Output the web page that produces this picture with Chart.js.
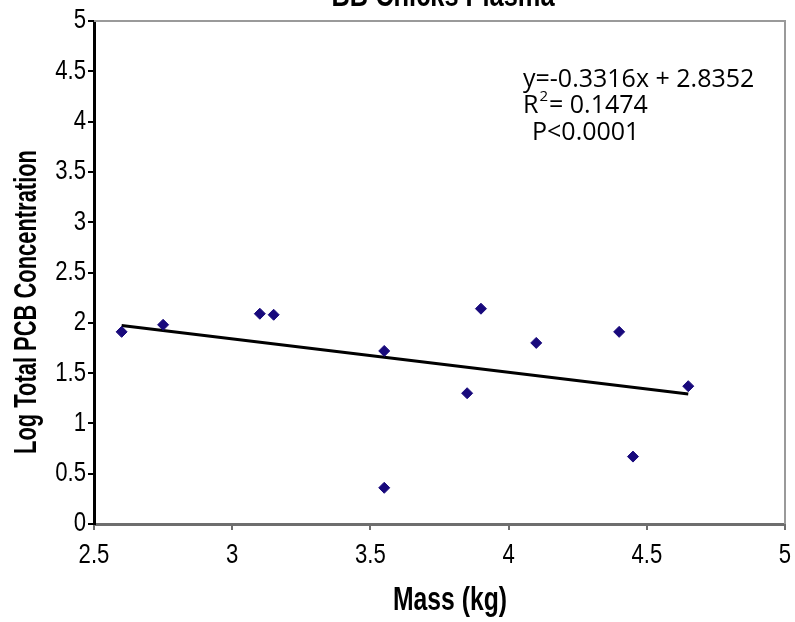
<!DOCTYPE html>
<html><head><meta charset="utf-8">
<script src="https://cdn.jsdelivr.net/npm/chart.js@4/dist/chart.umd.min.js"></script>
<style>html,body{margin:0;padding:0;background:#fff}#wrap{width:795px;height:622px}</style>
</head><body><div id="wrap"><canvas id="c" width="795" height="622"></canvas></div>
<script>
const massKg = [2.6, 2.75, 3.1, 3.15, 3.55, 3.55, 3.85, 3.9, 4.1, 4.4, 4.45, 4.65];
const logPCB = [1.91, 1.98, 2.09, 2.08, 0.36, 1.72, 1.30, 2.14, 1.80, 1.91, 0.67, 1.37];
const slope = -0.3316;
const intercept = 2.8352;
const fitRange = [2.6, 4.65];
const xTicks = [2.5, 3, 3.5, 4, 4.5, 5];
const xTickLabels = ['2.5', '3', '3.5', '4', '4.5', '5'];
const yTicks = [0, 0.5, 1, 1.5, 2, 2.5, 3, 3.5, 4, 4.5, 5];
const yTickLabels = ['0', '0.5', '1', '1.5', '2', '2.5', '3', '3.5', '4', '4.5', '5'];
const titleText = 'BB Chicks Plasma';
const xTitle = 'Mass (kg)';
const yTitle = 'Log Total PCB Concentration';
const eqText = 'y=-0.3316x + 2.8352';
const r2Text = '= 0.1474';
const pText = 'P<0.0001';

const sans = '"Liberation Sans", Arial, sans-serif';
const eqFont = '"Open Sans", "Noto Sans", sans-serif';

const points = massKg.map((x, i) => ({x: x, y: logPCB[i]}));
const fitLine = fitRange.map(x => ({x: x, y: slope * x + intercept}));

// condense axis tick text (the reference uses a narrow face)
const condense = {
  id: 'condense',
  beforeDraw(chart) {
    const ctx = chart.ctx;
    if (!ctx._nativeFill) ctx._nativeFill = ctx.fillText;
    const nat = ctx._nativeFill;
    ctx.fillText = function(t, x, y, mw) {
      const w = this.measureText(t).width * 0.82;
      return nat.call(this, t, x, y, (mw !== undefined && mw < w) ? mw : w);
    };
  },
  beforeDatasetsDraw(chart) {
    const ctx = chart.ctx;
    if (ctx._nativeFill) ctx.fillText = ctx._nativeFill;
  }
};

const extras = {
  id: 'extras',
  afterDraw(chart) {
    const ctx = chart.ctx, a = chart.chartArea;
    ctx.save();
    // top and right frame
    ctx.strokeStyle = '#9a9a9a';
    ctx.lineWidth = 2;
    ctx.beginPath();
    ctx.moveTo(a.left, a.top); ctx.lineTo(a.right, a.top); ctx.lineTo(a.right, a.bottom);
    ctx.stroke();
    ctx.fillStyle = '#000';
    // chart title, clipped at the top edge
    ctx.font = 'bold 33px ' + sans;
    ctx.textAlign = 'center';
    ctx.textBaseline = 'alphabetic';
    ctx.fillText(titleText, 443, 6, 223);
    // x axis title
    ctx.fillText(xTitle, 450, 610, 114);
    // y axis title
    ctx.save();
    ctx.translate(36, 302);
    ctx.rotate(-Math.PI / 2);
    ctx.font = 'bold 32px ' + sans;
    ctx.fillText(yTitle, 0, 0, 304);
    ctx.restore();
    // equation block
    ctx.textAlign = 'left';
    ctx.font = '25px ' + eqFont;
    ctx.fillText(eqText, 523, 87, 240);
    ctx.fillText('R', 523, 113);
    const rw = ctx.measureText('R').width;
    ctx.font = '15px ' + eqFont;
    ctx.fillText('2', 523 + rw + 1, 101);
    ctx.font = '25px ' + eqFont;
    ctx.fillText(r2Text, 549, 113);
    ctx.fillText(pText, 532, 140);
    ctx.restore();
  }
};

new Chart(document.getElementById('c'), {
  type: 'scatter',
  data: {
    datasets: [
      {
        type: 'line',
        data: fitLine,
        borderColor: '#000',
        borderWidth: 3,
        pointRadius: 0,
        fill: false,
        order: 2
      },
      {
        data: points,
        pointStyle: 'rectRot',
        pointRadius: 5.5,
        backgroundColor: '#18097c',
        borderColor: '#18097c',
        borderWidth: 1,
        order: 1
      }
    ]
  },
  options: {
    responsive: false,
    animation: false,
    events: [],
    layout: {padding: {top: 21, right: 10, left: 0, bottom: 0}},
    plugins: {legend: {display: false}, tooltip: {enabled: false}, title: {display: false}},
    scales: {
      x: {
        type: 'linear', min: 2.5, max: 5,
        afterBuildTicks: s => { s.ticks = xTicks.map(v => ({value: v})); },
        afterFit: s => { s.height = 98; s.paddingLeft = 0; s.paddingRight = 0; },
        grid: {drawOnChartArea: false, drawTicks: true, tickLength: 6, color: '#6e6e6e', lineWidth: 2},
        border: {color: '#6e6e6e', width: 3},
        ticks: {color: '#000', font: {family: sans, size: 27}, padding: 9, maxRotation: 0, autoSkip: false,
                callback: (v, i) => xTickLabels[i]},
        title: {display: false}
      },
      y: {
        type: 'linear', min: 0, max: 5,
        afterBuildTicks: s => { s.ticks = yTicks.map(v => ({value: v})); },
        afterFit: s => { s.width = 94; s.paddingTop = 0; s.paddingBottom = 0; },
        grid: {drawOnChartArea: false, drawTicks: true, tickLength: 6, color: '#000', lineWidth: 2},
        border: {color: '#000', width: 3},
        ticks: {color: '#000', font: {family: sans, size: 27}, padding: 2, autoSkip: false,
                callback: (v, i) => yTickLabels[i]},
        title: {display: false}
      }
    }
  },
  plugins: [condense, extras]
});
</script></body></html>
